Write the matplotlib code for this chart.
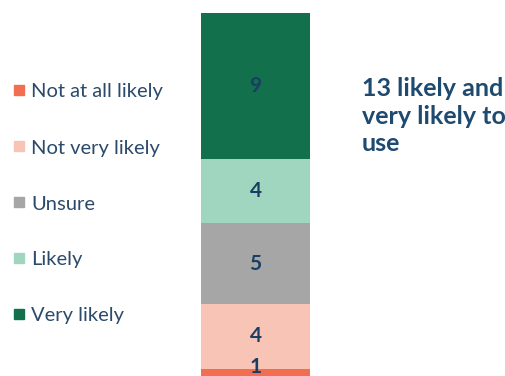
import matplotlib.pyplot as plt
from matplotlib.patches import Rectangle

categories = ['Not at all likely', 'Not very likely', 'Unsure', 'Likely', 'Very likely']
counts = [1, 4, 5, 4, 9]
colors = ['#F26E50', '#F8C4B6', '#A6A6A6', '#A0D6BF', '#13704C']
note = '13 likely and\nvery likely to\nuse'

plt.rcParams['font.family'] = ['Lato', 'DejaVu Sans']
text_col = '#2B4A6B'
num_col = '#1B3D63'

fig = plt.figure(figsize=(5.06, 3.76), dpi=100)
ax = fig.add_axes([201/506, -9/376, 109/506, 372/376])

bottom = 0
for cat, val, col in zip(categories, counts, colors):
    ax.bar(0, val, bottom=bottom, width=1, color=col, edgecolor='none')
    ypos = bottom + val / 2 if val > 1 else bottom + 1.1
    ax.text(0, ypos, str(val), ha='center', va='center', fontsize=15,
            fontweight='bold', color=num_col)
    bottom += val

ax.set_xlim(-0.5, 0.5)
ax.set_ylim(0, sum(counts))
ax.axis('off')

# legend
for i, (cat, col) in enumerate(zip(categories, colors)):
    y = 1 - (90 + 56 * i) / 376
    fig.patches.append(Rectangle((14/506, y - 5/376), 10/506, 10/376,
                                 transform=fig.transFigure, color=col))
    fig.text(31/506, y - 2/376, cat, ha='left', va='center', fontsize=14.5,
             color=text_col)

fig.text(362/506, 1 - 116/376, note, ha='left', va='center', fontsize=18,
         fontweight='bold', color='#1F4A70', linespacing=1.25)

fig.savefig('out.png', dpi=100)
